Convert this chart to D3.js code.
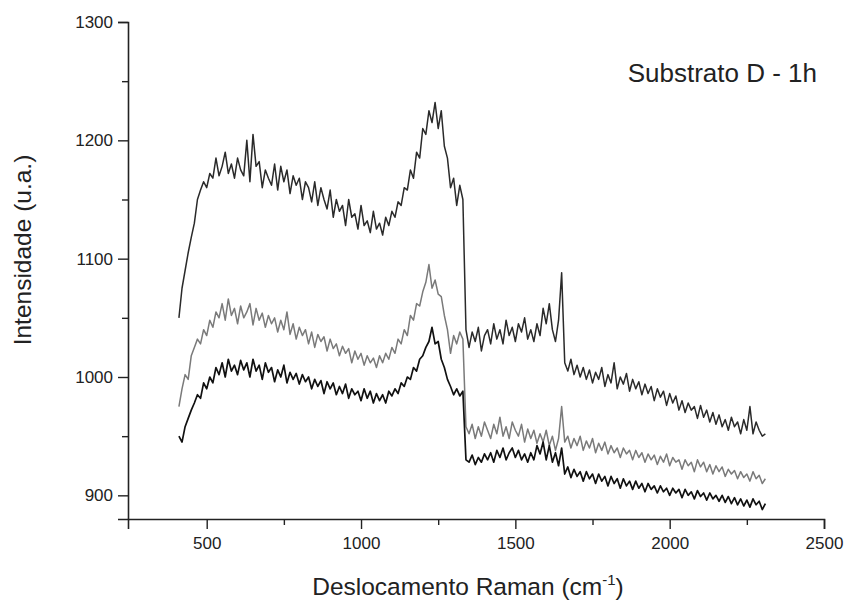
<!DOCTYPE html>
<html>
<head>
<meta charset="utf-8">
<script src="https://cdn.jsdelivr.net/npm/d3@7"></script>
<style>
  body { margin: 0; background: #fff; }
  text { font-family: Arial, "Liberation Sans", sans-serif; fill: #222; }
</style>
</head>
<body>
<div id="chart"></div>
<script>
// Raman shift grid (cm-1), one reading every 10 cm-1
var shift = d3.range(410, 2311, 10);

// top trace (dark)
var topTrace = [
  1050, 1075, 1090, 1105, 1118, 1130, 1150, 1158, 1165, 1160,
  1172, 1168, 1185, 1170, 1178, 1190, 1172, 1180, 1168, 1185,
  1175, 1170, 1200, 1165, 1205, 1178, 1182, 1160, 1175, 1168,
  1162, 1180, 1158, 1178, 1165, 1175, 1155, 1170, 1162, 1168,
  1150, 1165, 1160, 1148, 1165, 1145, 1160, 1150, 1142, 1158,
  1135, 1150, 1140, 1145, 1128, 1150, 1135, 1138, 1125, 1145,
  1128, 1132, 1122, 1140, 1125, 1130, 1120, 1135, 1128, 1140,
  1135, 1148, 1145, 1160, 1158, 1175, 1168, 1190, 1185, 1210,
  1205, 1225, 1215, 1232, 1210, 1225, 1195, 1185, 1160, 1168,
  1145, 1162, 1150, 1040, 1025, 1038, 1030, 1042, 1022, 1035,
  1040, 1028, 1045, 1032, 1040, 1028, 1048, 1035, 1042, 1030,
  1045, 1038, 1050, 1032, 1040, 1030, 1045, 1035, 1058, 1045,
  1062, 1040, 1030, 1048, 1088, 1012, 1005, 1015, 1002, 1010,
  1000, 1008, 998, 1006, 995, 1004, 998, 1008, 992, 1002,
  995, 1012, 990, 1000, 994, 1003, 988, 998, 990, 996,
  985, 994, 986, 992, 980, 990, 983, 988, 976, 986,
  978, 984, 972, 980, 970, 978, 972, 975, 965, 976,
  966, 972, 962, 970, 960, 968, 958, 964, 955, 966,
  958, 962, 952, 964, 955, 975, 952, 962, 955, 950,
  952
];

// middle trace (grey)
var midTrace = [
  975, 990, 1002, 998, 1018, 1025, 1032, 1028, 1040, 1035,
  1048, 1042, 1055, 1050, 1062, 1048, 1066, 1052, 1058, 1045,
  1060, 1050, 1055, 1062, 1044, 1058, 1048, 1054, 1042, 1052,
  1045, 1050, 1038, 1048, 1040, 1055, 1036, 1045, 1032, 1042,
  1035, 1040, 1028, 1038, 1025, 1036, 1030, 1034, 1022, 1032,
  1024, 1028, 1018, 1026, 1020, 1024, 1012, 1022, 1015, 1020,
  1010, 1018, 1012, 1016, 1008, 1018, 1012, 1020, 1015, 1025,
  1020, 1032, 1028, 1040, 1035, 1052, 1048, 1062, 1060, 1072,
  1080, 1095, 1075, 1082, 1070, 1068, 1052, 1040, 1020, 1035,
  1028, 1038, 1032, 958, 952, 960, 948, 958, 950, 962,
  955, 948, 960, 952, 966, 950, 958, 948, 962, 955,
  950, 960, 945, 956, 948, 955, 944, 952, 945, 955,
  942, 950, 938, 948, 975, 945, 950, 940, 948, 942,
  950, 938, 946, 940, 948, 936, 944, 938, 945, 935,
  942, 936, 940, 932, 940, 935, 938, 930, 938, 932,
  936, 928, 935, 930, 934, 926, 933, 928, 935, 925,
  932, 928, 930, 922, 930, 925, 928, 920, 930, 924,
  928, 920, 926, 918, 925, 920, 924, 916, 922, 918,
  921, 914, 920, 915, 918, 912, 920, 914, 917, 910,
  914
];

// bottom trace (black)
var lowTrace = [
  950, 945, 958, 965, 972, 978, 985, 982, 995, 990,
  1000, 995, 1008, 1002, 1012, 1000, 1015, 1005, 1010, 1002,
  1014, 1006, 1012, 1000, 1015, 1005, 1010, 998, 1012, 1004,
  1008, 996, 1006, 1000, 1010, 995, 1004, 998, 1003, 994,
  1002, 996, 1000, 990, 998, 992, 997, 986, 996, 990,
  995, 985, 992, 986, 994, 982, 990, 985, 988, 980,
  990, 982, 988, 978, 986, 980, 985, 978, 988, 984,
  990, 986, 995, 992, 1000, 998, 1008, 1005, 1015, 1018,
  1025, 1030, 1042, 1028, 1030, 1015, 1008, 998, 992, 985,
  990, 984, 988, 930, 928, 934, 926, 932, 928, 935,
  930, 936, 928, 938, 932, 940, 930, 936, 940, 932,
  938, 930, 935, 928, 936, 930, 942, 935, 945, 930,
  942, 928, 936, 925, 940, 918, 924, 915, 922, 916,
  920, 912, 920, 914, 918, 910, 918, 912, 916, 908,
  916, 910, 914, 906, 914, 908, 912, 905, 912, 906,
  910, 903, 910, 905, 908, 902, 908, 903, 906, 900,
  906, 902, 905, 898, 905, 900, 903, 897, 904, 899,
  902, 896, 902, 897, 900, 895, 900, 894, 899, 893,
  898, 892, 897, 891, 896, 890, 897, 892, 895, 888,
  893
];

var xTicks = [500, 1000, 1500, 2000, 2500];
var yTicks = [900, 1000, 1100, 1200, 1300];

var width = 850;
var height = 605;

var svg = d3.select("#chart")
    .append("svg")
    .attr("width", width)
    .attr("height", height);

var x = d3.scaleLinear().domain([245, 2500]).range([128, 824]);
var y = d3.scaleLinear().domain([880, 1300]).range([519, 22]);

// traces
var series = [
    { values: topTrace, color: "#2a2a2a", w: 1.5 },
    { values: midTrace, color: "#7a7a7a", w: 1.5 },
    { values: lowTrace, color: "#111111", w: 1.7 }
];

var line = d3.line()
    .x((d, i) => x(shift[i]))
    .y(d => y(d));

series.forEach(s => {
    svg.append("path")
        .datum(s.values)
        .attr("fill", "none")
        .attr("stroke", s.color)
        .attr("stroke-width", s.w)
        .attr("stroke-linejoin", "round")
        .attr("d", line);
});

// x axis: major + minor ticks
svg.append("g")
    .attr("transform", "translate(0,519)")
    .call(d3.axisBottom(x).tickValues(xTicks).tickSize(10).tickPadding(8).tickFormat(d3.format("d")));
svg.append("g")
    .attr("transform", "translate(0,519)")
    .call(d3.axisBottom(x).tickValues([750, 1250, 1750, 2250]).tickSize(6).tickFormat(""))
    .select(".domain").remove();

// y axis: major + minor ticks
svg.append("g")
    .attr("transform", "translate(128,0)")
    .call(d3.axisLeft(y).tickValues(yTicks).tickSize(10).tickPadding(5).tickFormat(d3.format("d")));
svg.append("g")
    .attr("transform", "translate(128,0)")
    .call(d3.axisLeft(y).tickValues([950, 1050, 1150, 1250]).tickSize(6).tickFormat(""))
    .select(".domain").remove();

svg.selectAll(".domain").attr("stroke", "#222").attr("stroke-width", 1.6);
svg.selectAll(".tick line").attr("stroke", "#222").attr("stroke-width", 1.4);
svg.selectAll(".tick text").attr("font-size", "17px").attr("fill", "#222");

// axis titles
var xt = svg.append("text")
    .attr("x", 468)
    .attr("y", 595)
    .attr("text-anchor", "middle")
    .attr("font-size", "24.5px");
xt.append("tspan").text("Deslocamento Raman (cm");
xt.append("tspan").attr("dy", -10).attr("font-size", "15px").text("-1");
xt.append("tspan").attr("dy", 10).text(")");

svg.append("text")
    .attr("transform", "translate(31,250) rotate(-90)")
    .attr("text-anchor", "middle")
    .attr("font-size", "24.5px")
    .text("Intensidade (u.a.)");

svg.append("text")
    .attr("x", 817)
    .attr("y", 82)
    .attr("text-anchor", "end")
    .attr("font-size", "26px")
    .text("Substrato D - 1h");
</script>
</body>
</html>
